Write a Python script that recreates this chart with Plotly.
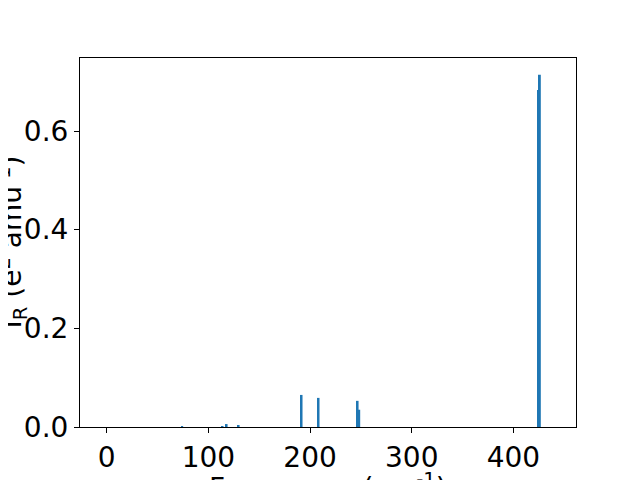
import plotly.graph_objects as go

freqs = [74.3, 114.0, 118.0, 129.8, 191.7, 208.4, 246.8, 248.4, 424.2, 426.0]
intensities = [0.002, 0.002, 0.006, 0.004, 0.065, 0.059, 0.053, 0.035, 0.683, 0.714]
x_ticks = [0, 100, 200, 300, 400]
y_ticks = [0.0, 0.2, 0.4, 0.6]

font = dict(family="DejaVu Sans", size=28, color="black")

fig = go.Figure(go.Bar(x=freqs, y=intensities, width=1.8,
                       marker=dict(color="#1f77b4", line=dict(width=0))))

fig.update_layout(
    width=640, height=480,
    margin=dict(l=72, r=72, t=50, b=61, autoexpand=False),
    paper_bgcolor="white", plot_bgcolor="white",
    showlegend=False,
    font=font,
    xaxis=dict(range=[-26.2, 461.5], tickvals=x_ticks, ticktext=[str(v) for v in x_ticks],
               showline=True, linecolor="black", linewidth=1, mirror=True,
               ticks="outside", ticklen=5, tickcolor="black", showgrid=False, zeroline=False,
               tickfont=font, automargin=False),
    yaxis=dict(range=[0, 0.748], tickvals=y_ticks, ticktext=["0.0", "0.2", "0.4", "0.6"],
               showline=True, linecolor="black", linewidth=1, mirror=True,
               ticks="outside", ticklen=5, tickcolor="black", showgrid=False, zeroline=False,
               tickfont=font, automargin=False),
    annotations=[
        dict(text="Frequency (cm<sup>-1</sup>)", xref="paper", yref="paper",
             x=0.5, y=-0.105, xanchor="center", yanchor="top", showarrow=False, font=font),
        dict(text="I<sub>R</sub> (e<sup>2</sup> amu<sup>-1</sup>)", xref="paper", yref="paper",
             x=-0.137, y=0.5, xanchor="center", yanchor="middle", textangle=-90,
             showarrow=False, font=font),
    ],
)

fig.write_html("out.html")
